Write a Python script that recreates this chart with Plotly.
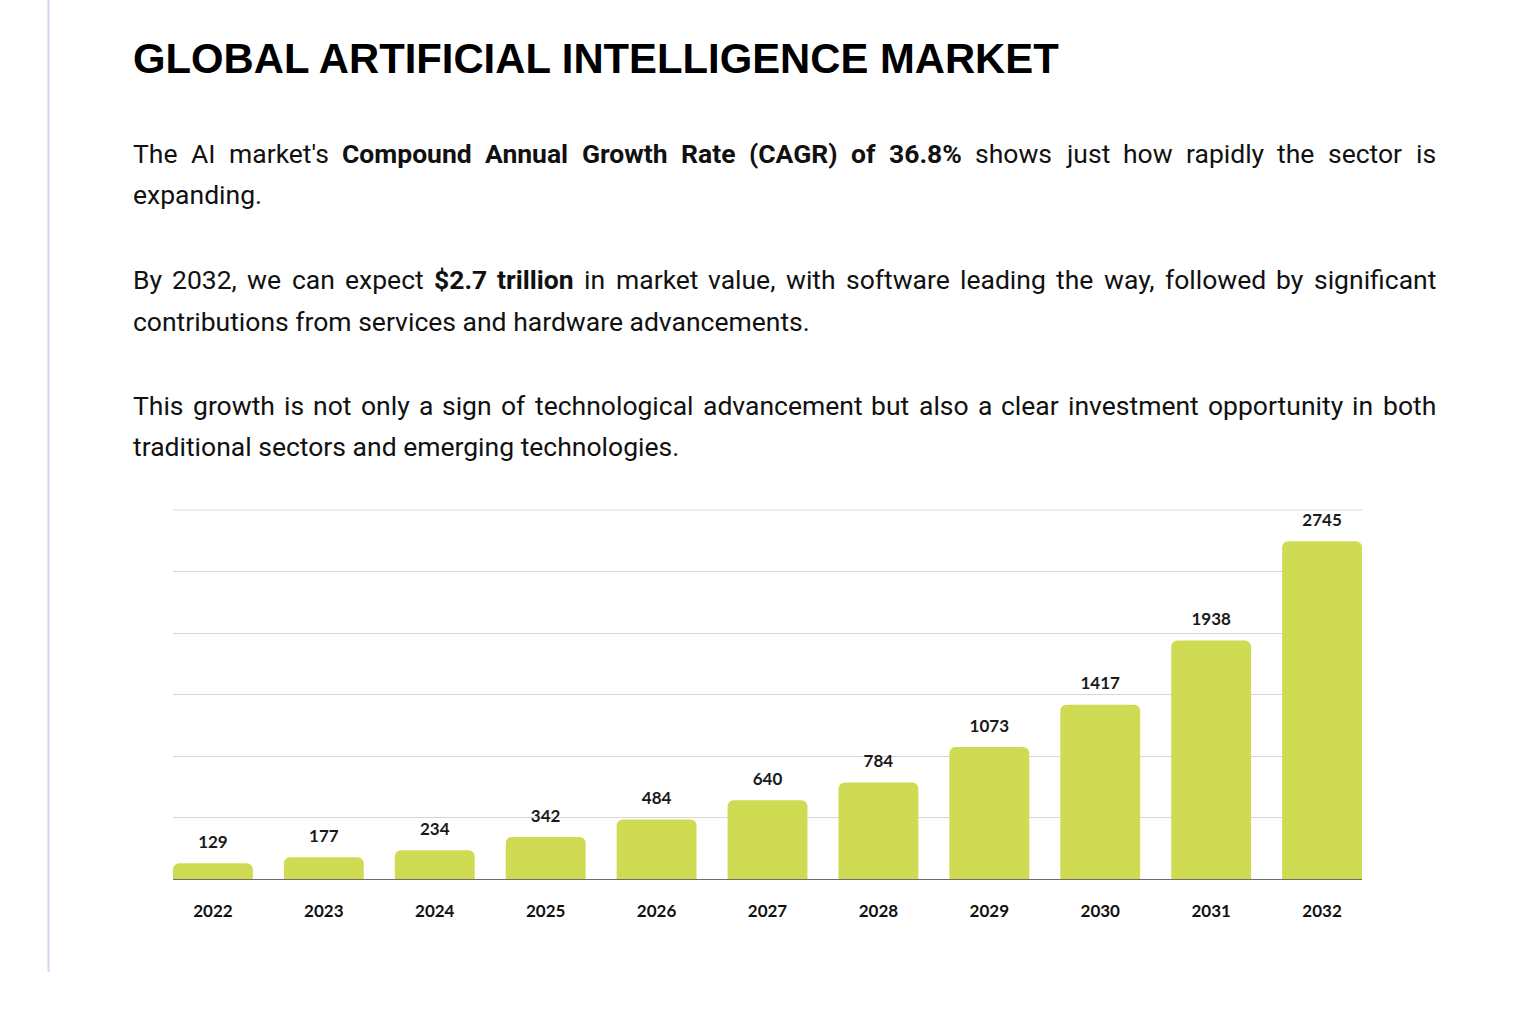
import json
import plotly.graph_objects as go

# ---- data ----
years = ["2022", "2023", "2024", "2025", "2026", "2027", "2028", "2029", "2030", "2031", "2032"]
market_value = [129, 177, 234, 342, 484, 640, 784, 1073, 1417, 1938, 2745]

title_text = "GLOBAL ARTIFICIAL INTELLIGENCE MARKET"

# justified lines (bold words wrapped in <b>)
line1 = "The AI market's <b>Compound</b> <b>Annual</b> <b>Growth</b> <b>Rate</b> <b>(CAGR)</b> <b>of</b> <b>36.8%</b> shows just how rapidly the sector is"
line3 = "By 2032, we can expect <b>$2.7</b> <b>trillion</b> in market value, with software leading the way, followed by significant"
line5 = "This growth is not only a sign of technological advancement but also a clear investment opportunity in both"
line2 = "expanding."
line4 = "contributions from services and hardware advancements."
line6 = "traditional sectors and emerging technologies."

# ---- layout constants ----
W, H = 1536, 1010
BODY_FONT = "Roboto"
BODY_SIZE = 26.5
TEXT_COLOR = "#111111"
BAR_COLOR = "#CFDB52"
GRID_COLOR = "#d6d6d6"
TEXT_LEFT, TEXT_RIGHT = 133, 1436


def px(x):
    return x / W


def py(y):
    return 1 - y / H


bargap = 0.28
half = (1 - bargap) / 2
n = len(years)
y_max = 3000
y_top = 3006
base_px, grid_top_px = 879, 510
unit = (base_px - grid_top_px) / y_max
dom_top_px = base_px - y_top * unit

fig = go.Figure()
fig.add_trace(go.Bar(
    x=years, y=market_value,
    marker=dict(color=BAR_COLOR, cornerradius=6, line=dict(width=0)),
    hoverinfo="skip",
))
fig.add_trace(go.Scatter(
    x=years, y=market_value,
    mode="markers+text",
    marker=dict(size=16, opacity=0),
    text=[str(v) for v in market_value],
    textposition="top center",
    textfont=dict(family="Lato", size=17, color="#1a1a1a", weight="bold"),
    cliponaxis=False,
    hoverinfo="skip",
))

annotations = []
annotations.append(dict(text=f"<b>{title_text}</b>", x=px(131), y=py(58), xref="paper", yref="paper",
                        xanchor="left", yanchor="middle", showarrow=False,
                        font=dict(family="Liberation Sans", size=41.8, color="#000000")))

just_lines = []


def add_justified(line, ycen):
    words = line.split(" ")
    idx, plain, bold = [], [], []
    x = TEXT_LEFT - 2
    for w in words:
        idx.append(len(annotations))
        isb = w.startswith("<b>")
        p = w.replace("<b>", "").replace("</b>", "")
        plain.append(p)
        bold.append(isb)
        annotations.append(dict(text=w, x=px(x), y=py(ycen), xref="paper", yref="paper",
                                xanchor="left", yanchor="middle", showarrow=False,
                                font=dict(family=BODY_FONT, size=BODY_SIZE, color=TEXT_COLOR)))
        x += len(p) * 13 + 8
    just_lines.append(dict(idx=idx, words=plain, bold=bold))


def add_plain(text, ycen):
    annotations.append(dict(text=text, x=px(TEXT_LEFT - 2), y=py(ycen), xref="paper", yref="paper",
                            xanchor="left", yanchor="middle", showarrow=False,
                            font=dict(family=BODY_FONT, size=BODY_SIZE, color=TEXT_COLOR)))


add_justified(line1, 153)
add_plain(line2, 195)
add_justified(line3, 279)
add_plain(line4, 321)
add_justified(line5, 405)
add_plain(line6, 447)

fig.update_layout(
    width=W, height=H,
    margin=dict(l=0, r=0, t=0, b=0),
    paper_bgcolor="white", plot_bgcolor="white",
    showlegend=False,
    annotations=annotations,
    shapes=[
        dict(type="line", xref="paper", yref="paper", x0=px(48.5), x1=px(48.5), y0=py(0), y1=py(972),
             line=dict(color="#D3D3F2", width=2)),
        # top gridline of the value axis
        dict(type="line", xref="x domain", yref="y", x0=0, x1=1, y0=y_max, y1=y_max,
             line=dict(color=GRID_COLOR, width=1), layer="below"),
    ],
    xaxis=dict(domain=[px(173), px(1362)], range=[-half, n - 1 + half], type="category",
               showgrid=False, showline=True, linecolor="#6e6e6e", linewidth=1,
               ticks="", ticklabelstandoff=17,
               tickfont=dict(family="Lato", size=17, color="#111111", weight="bold")),
    yaxis=dict(domain=[py(base_px), py(dom_top_px)], range=[0, y_top], dtick=500, showticklabels=False,
               showgrid=True, gridcolor=GRID_COLOR, gridwidth=1, zeroline=False, showline=False),
    bargap=bargap,
    font=dict(family=BODY_FONT),
)

# justify the paragraph lines in the browser by measuring each word with the real font
js = """
document.body.style.margin='0';document.body.style.overflow='hidden';
(function(){
  var gd = document.getElementById('{plot_id}');
  var ctx = document.createElement('canvas').getContext('2d');
  var lines = LINES;
  var X0 = LEFT - 2, X1 = RIGHT - 2, SIZE = FSIZE, WIDTH = FIGW;
  var upd = {};
  lines.forEach(function(L){
    var ws = L.words.map(function(w, i){
      ctx.font = (L.bold[i] ? 'bold ' : '') + SIZE + 'px Roboto';
      return ctx.measureText(w).width;
    });
    var tot = ws.reduce(function(a, b){ return a + b; }, 0);
    var gap = (X1 - X0 - tot) / (ws.length - 1);
    var x = X0;
    ws.forEach(function(w, i){
      upd['annotations[' + L.idx[i] + '].x'] = x / WIDTH;
      x += w + gap;
    });
  });
  Plotly.relayout(gd, upd);
})();
"""
js = (js.replace("LINES", json.dumps(just_lines)).replace("LEFT", str(TEXT_LEFT))
      .replace("RIGHT", str(TEXT_RIGHT)).replace("FSIZE", str(BODY_SIZE)).replace("FIGW", str(W)))

fig.write_html("out.html", post_script=js, config={"displayModeBar": False})
